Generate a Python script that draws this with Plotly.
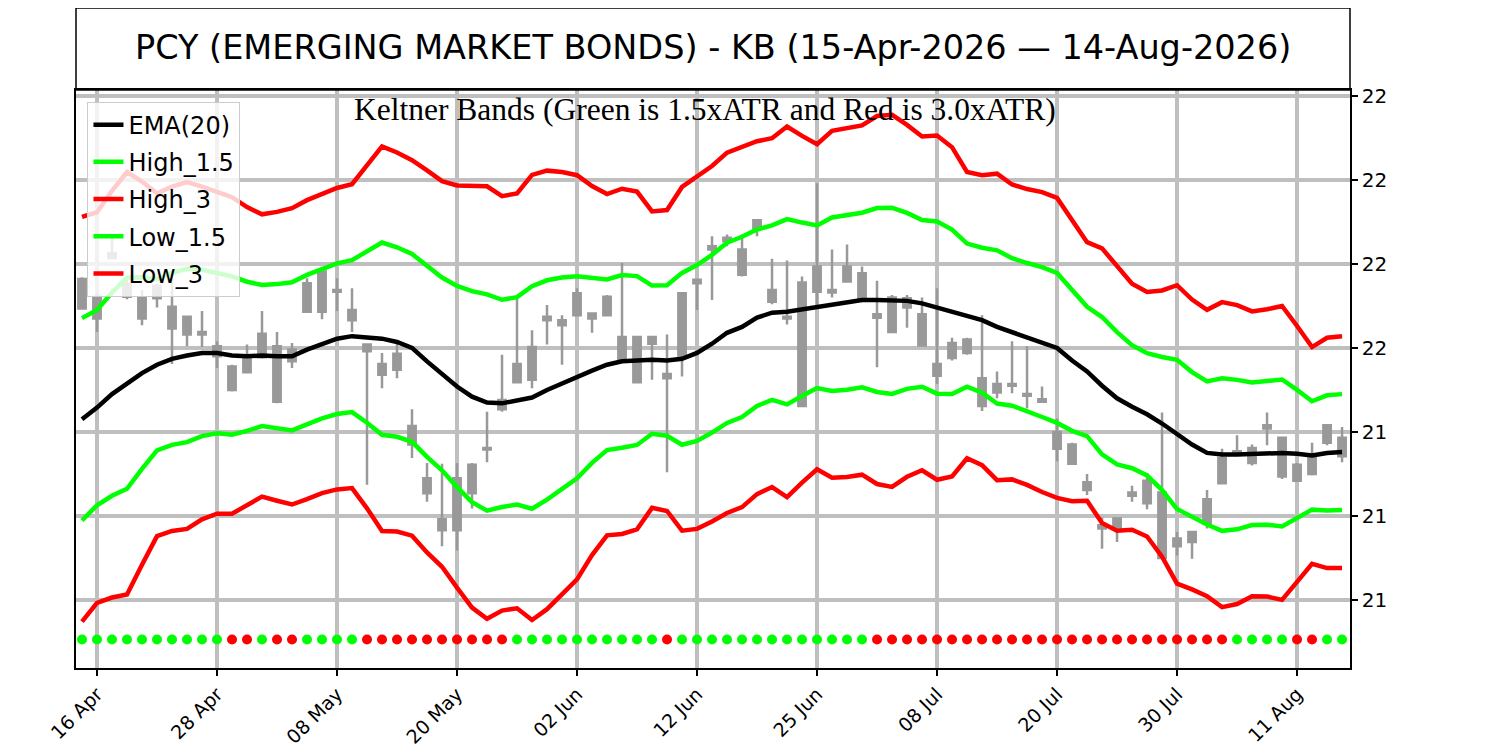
import pandas as pd
import plotly.graph_objects as go

# trading days 15-Apr-2026 .. 14-Aug-2026 (exchange holidays skipped)
holidays = ["2026-05-25", "2026-06-19", "2026-07-03"]
days = [d.strftime("%Y-%m-%d") for d in
        pd.bdate_range("2026-04-15", "2026-08-14", freq="C", holidays=holidays)]

open_ = [21.582, 21.535, 21.613, 21.576, 21.535, 21.574, 21.549, 21.537, 21.519, 21.502,
         21.450, 21.471, 21.517, 21.436, 21.484, 21.543, 21.543, 21.569, 21.545, 21.504,
         21.468, 21.493, 21.407, 21.345, 21.283, 21.283, 21.327, 21.379, 21.427, 21.459,
         21.462, 21.537, 21.527, 21.565, 21.535, 21.561, 21.513, 21.459, 21.513, 21.464,
         21.491, 21.577, 21.617, 21.631, 21.587, 21.652, 21.569, 21.537, 21.431, 21.597,
         21.566, 21.597, 21.589, 21.536, 21.519, 21.559, 21.540, 21.467, 21.488, 21.510,
         21.431, 21.447, 21.457, 21.445, 21.439, 21.400, 21.385, 21.340, 21.285, 21.286,
         21.324, 21.342, 21.328, 21.264, 21.269, 21.291, 21.339, 21.377, 21.363, 21.408,
         21.393, 21.342, 21.350, 21.408, 21.371]
high = [21.584, 21.565, 21.635, 21.586, 21.569, 21.576, 21.591, 21.538, 21.544, 21.508,
        21.480, 21.504, 21.544, 21.519, 21.506, 21.583, 21.593, 21.583, 21.571, 21.504,
        21.494, 21.506, 21.427, 21.363, 21.362, 21.363, 21.363, 21.424, 21.492, 21.559,
        21.521, 21.551, 21.539, 21.571, 21.541, 21.563, 21.601, 21.513, 21.513, 21.516,
        21.565, 21.581, 21.633, 21.635, 21.635, 21.652, 21.606, 21.604, 21.585, 21.696,
        21.617, 21.623, 21.597, 21.580, 21.563, 21.563, 21.560, 21.571, 21.512, 21.512,
        21.539, 21.472, 21.508, 21.502, 21.454, 21.416, 21.387, 21.350, 21.298, 21.298,
        21.336, 21.351, 21.423, 21.281, 21.281, 21.331, 21.380, 21.396, 21.385, 21.423,
        21.393, 21.363, 21.387, 21.408, 21.406]
low = [21.546, 21.519, 21.606, 21.558, 21.527, 21.548, 21.481, 21.502, 21.501, 21.476,
       21.448, 21.470, 21.487, 21.434, 21.476, 21.542, 21.534, 21.544, 21.519, 21.337,
       21.452, 21.464, 21.369, 21.317, 21.264, 21.259, 21.309, 21.364, 21.424, 21.459,
       21.452, 21.504, 21.480, 21.539, 21.518, 21.539, 21.487, 21.459, 21.462, 21.352,
       21.466, 21.545, 21.557, 21.621, 21.585, 21.633, 21.552, 21.528, 21.431, 21.547,
       21.560, 21.579, 21.558, 21.477, 21.519, 21.524, 21.503, 21.457, 21.485, 21.492,
       21.425, 21.440, 21.446, 21.428, 21.436, 21.365, 21.361, 21.325, 21.261, 21.269,
       21.317, 21.308, 21.250, 21.253, 21.249, 21.285, 21.339, 21.372, 21.360, 21.384,
       21.344, 21.342, 21.348, 21.384, 21.364]
close = [21.547, 21.561, 21.607, 21.561, 21.559, 21.559, 21.523, 21.516, 21.516, 21.490,
         21.478, 21.490, 21.489, 21.502, 21.498, 21.577, 21.591, 21.567, 21.533, 21.496,
         21.481, 21.474, 21.385, 21.327, 21.296, 21.345, 21.361, 21.381, 21.438, 21.481,
         21.501, 21.533, 21.533, 21.539, 21.541, 21.539, 21.487, 21.513, 21.505, 21.469,
         21.565, 21.581, 21.621, 21.627, 21.617, 21.643, 21.555, 21.535, 21.578, 21.567,
         21.569, 21.579, 21.558, 21.540, 21.560, 21.548, 21.503, 21.481, 21.506, 21.494,
         21.464, 21.457, 21.455, 21.443, 21.436, 21.380, 21.362, 21.331, 21.289, 21.297,
         21.328, 21.315, 21.250, 21.273, 21.281, 21.320, 21.369, 21.376, 21.381, 21.404,
         21.347, 21.361, 21.373, 21.387, 21.393]

ema20 = [21.415, 21.429, 21.445, 21.458, 21.470, 21.480, 21.487, 21.491, 21.494, 21.494,
         21.491, 21.490, 21.491, 21.490, 21.490, 21.498, 21.505, 21.511, 21.514, 21.513,
         21.511, 21.507, 21.500, 21.484, 21.469, 21.454, 21.442, 21.435, 21.434, 21.437,
         21.441, 21.450, 21.458, 21.465, 21.473, 21.480, 21.484, 21.485, 21.486, 21.485,
         21.487, 21.494, 21.505, 21.518, 21.525, 21.536, 21.542, 21.543, 21.546, 21.549,
         21.552, 21.554, 21.557, 21.557, 21.556, 21.556, 21.553, 21.548, 21.543, 21.539,
         21.533, 21.525, 21.519, 21.513, 21.507, 21.500, 21.485, 21.472, 21.455, 21.440,
         21.430, 21.421, 21.410, 21.397, 21.385, 21.375, 21.373, 21.373, 21.374, 21.375,
         21.375, 21.374, 21.372, 21.375, 21.376]
atr = [0.0803, 0.0775, 0.0807, 0.0838, 0.0760, 0.0680, 0.0683, 0.0688, 0.0660, 0.0638,
       0.0628, 0.0592, 0.0560, 0.0573, 0.0588, 0.0593, 0.0593, 0.0598, 0.0603, 0.0680,
       0.0763, 0.0752, 0.0745, 0.0758, 0.0765, 0.0798, 0.0837, 0.0858, 0.0822, 0.0823,
       0.0883, 0.0870, 0.0838, 0.0802, 0.0732, 0.0677, 0.0685, 0.0670, 0.0588, 0.0597,
       0.0682, 0.0698, 0.0705, 0.0715, 0.0715, 0.0700, 0.0692, 0.0735, 0.0688, 0.0645,
       0.0688, 0.0692, 0.0693, 0.0730, 0.0738, 0.0698, 0.0662, 0.0683, 0.0653, 0.0568,
       0.0575, 0.0608, 0.0585, 0.0587, 0.0595, 0.0595, 0.0558, 0.0513, 0.0545, 0.0525,
       0.0488, 0.0485, 0.0528, 0.0592, 0.0575, 0.0568, 0.0605, 0.0593, 0.0565, 0.0570,
       0.0583, 0.0507, 0.0430, 0.0457, 0.0460]

# squeeze flag per bar: G = green dot, R = red dot
squeeze = list("GGGGGGGGGG" "RRGRRGGGGR" "RRRRRRRRRG" "GGGGGGGGGR" "GGGGGGGGGG"
               "GGGRRRRRRR" "RRRRRRRRRR" "RRRRRRRGGG" "GRRGG")
squeeze_row = 21.153

tick_days = ["2026-04-16", "2026-04-28", "2026-05-08", "2026-05-20", "2026-06-02", "2026-06-12",
             "2026-06-25", "2026-07-08", "2026-07-20", "2026-07-30", "2026-08-11"]
tick_text = ["16 Apr", "28 Apr", "08 May", "20 May", "02 Jun", "12 Jun",
             "25 Jun", "08 Jul", "20 Jul", "30 Jul", "11 Aug"]
y_ticks = [21.2, 21.3, 21.4, 21.5, 21.6, 21.7, 21.8]
y_text = ["21", "21", "21", "22", "22", "22", "22"]

assert len(days) == len(close) == len(ema20) == len(atr) == len(squeeze)

bands = {
    "High_1.5": ([e + 1.5 * a for e, a in zip(ema20, atr)], "#00ff00"),
    "High_3": ([e + 3.0 * a for e, a in zip(ema20, atr)], "#ff0000"),
    "Low_1.5": ([e - 1.5 * a for e, a in zip(ema20, atr)], "#00ff00"),
    "Low_3": ([e - 3.0 * a for e, a in zip(ema20, atr)], "#ff0000"),
}

GREY = "#999999"
fig = go.Figure()

fig.add_trace(go.Candlestick(
    x=days, open=open_, high=high, low=low, close=close,
    increasing=dict(line=dict(color=GREY, width=2.5), fillcolor=GREY),
    decreasing=dict(line=dict(color=GREY, width=2.5), fillcolor=GREY),
    showlegend=False, hoverinfo="skip"))

fig.add_trace(go.Scatter(x=days, y=ema20, mode="lines", name="EMA(20)", legendgroup="ema",
                         line=dict(color="black", width=4.5)))
for name, (vals, col) in bands.items():
    fig.add_trace(go.Scatter(x=days, y=vals, mode="lines", name=name, legendgroup=name,
                             line=dict(color=col, width=4.5)))

fig.add_trace(go.Scatter(
    x=days, y=[squeeze_row] * len(days), mode="markers", showlegend=False,
    marker=dict(size=10, color=["#00ff00" if s == "G" else "#ff0000" for s in squeeze])))

axis_common = dict(showgrid=True, gridcolor="#bfbfbf", gridwidth=3.5, zeroline=False,
                   showline=True, linecolor="black", linewidth=1.5, mirror=True,
                   ticks="outside", ticklen=6, tickwidth=1.5, tickcolor="black",
                   automargin=False)

# the page adds an 8px body margin, so the figure is sized to fit the window
fig.update_layout(
    width=1492, height=742,
    margin=dict(l=68, r=150, t=82, b=82),
    paper_bgcolor="white", plot_bgcolor="white",
    font=dict(family="DejaVu Sans", color="black"),
    xaxis=dict(type="category", range=[-0.4, 84.53], tickvals=tick_days, ticktext=tick_text,
               tickangle=-45, rangeslider=dict(visible=False),
               tickfont=dict(family="DejaVu Sans", size=19, color="black"), **axis_common),
    yaxis=dict(side="right", range=[21.119, 21.807], tickvals=y_ticks, ticktext=y_text,
               tickfont=dict(family="DejaVu Sans", size=20, color="black"), **axis_common),
    legend=dict(x=0.009, y=0.98, xanchor="left", yanchor="top",
                bgcolor="rgba(255,255,255,0.8)", bordercolor="#cccccc", borderwidth=1,
                font=dict(family="DejaVu Sans", size=24, color="black"),
                tracegroupgap=3, traceorder="grouped"),
    shapes=[dict(type="rect", xref="paper", yref="paper", x0=0, x1=1, y0=1, y1=1.1419,
                 line=dict(color="black", width=1.5))],
    annotations=[
        dict(text="PCY (EMERGING MARKET BONDS) - KB (15-Apr-2026 — 14-Aug-2026)",
             xref="paper", yref="paper", x=0.5, y=1.0727, showarrow=False,
             xanchor="center", yanchor="middle",
             font=dict(family="DejaVu Sans", size=33.5, color="black")),
        dict(text="Keltner Bands (Green is 1.5xATR and Red is 3.0xATR)",
             xref="paper", yref="paper", x=0.4937, y=0.9654, showarrow=False,
             xanchor="center", yanchor="middle",
             font=dict(family="Liberation Serif", size=31.5, color="black")),
    ],
)

fig.write_html("out.html")
